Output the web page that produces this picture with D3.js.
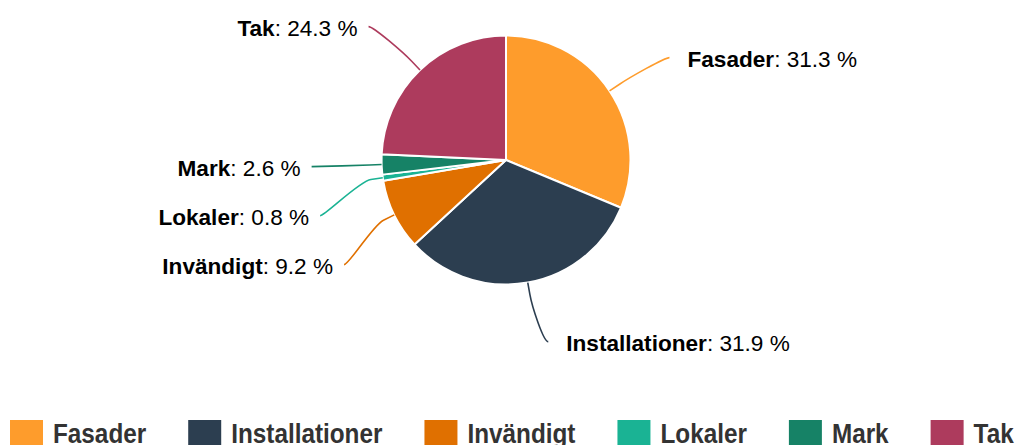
<!DOCTYPE html>
<meta charset="utf-8">
<script src="https://d3js.org/d3.v7.min.js"></script>
<style>
  body { margin: 0; background: #fff; }
  text { font-family: "Liberation Sans", Arial, sans-serif; }
</style>
<body>
<div id="canvas"></div>
<script>

    // data ------------------------------------------------------------
    var categories = ["Fasader", "Installationer", "Invändigt", "Lokaler", "Mark", "Tak"];
    var values = [31.3, 31.9, 9.2, 0.8, 2.6, 24.3];
    var colors = ["#fe9c2c", "#2c3e50", "#e07000", "#1ab394", "#168266", "#ad3b5d"];

    var width = 1021;
    var height = 445;

    var svg = d3.select('#canvas')
        .append("svg")
        .attr("width", width)
        .attr("height", height);

    var cx = 506, cy = 160, r = 124.5;
    var labelR = r + 60;      // distancia dos rotulos
    var breakOff = 12;        // onde a linha do conector quebra

    var data = categories.map(function(c, i) {
        return { name: c, value: values[i], color: colors[i] };
    });

    var pie = d3.pie()
        .sort(null)
        .value(function(d) { return d.value; });
    var arcs = pie(data);

    var arc = d3.arc().innerRadius(0).outerRadius(r);

    var g = svg.append("g")
        .attr("transform", "translate(" + cx + "," + cy + ")");

    // fatias -----------------------------------------------------------
    g.selectAll(".slice")
        .data(arcs)
        .enter()
        .append("path")
        .attr("d", arc)
        .attr("fill", function(d) { return d.data.color; })
        .attr("stroke", "#fff")
        .attr("stroke-width", 2)
        .attr("stroke-linejoin", "round");

    // posicao dos rotulos ----------------------------------------------
    arcs.forEach(function(a) {
        a.mid = (a.startAngle + a.endAngle) / 2;
        a.left = Math.sin(a.mid) < 0;
        a.ly = -Math.cos(a.mid) * labelR;
    });

    // empurra rotulos sobrepostos (por lado)
    var minGap = 49;
    [true, false].forEach(function(side) {
        var list = arcs.filter(function(a) { return a.left === side; })
            .sort(function(a, b) { return a.ly - b.ly; });
        for (var i = 1; i < list.length; i++) {
            if (list[i].ly - list[i - 1].ly < minGap) {
                list[i].ly = list[i - 1].ly + minGap;
            }
        }
    });

    arcs.forEach(function(a) {
        var dy = Math.max(-labelR, Math.min(labelR, a.ly));
        var dx = Math.sqrt(labelR * labelR - dy * dy) + 10;
        a.lx = a.left ? -dx : dx;
    });

    // conectores -------------------------------------------------------
    g.selectAll(".connector")
        .data(arcs)
        .enter()
        .append("path")
        .attr("fill", "none")
        .attr("stroke", function(d) { return d.data.color; })
        .attr("stroke-width", 1.6)
        .attr("d", function(d) {
            var sx = Math.sin(d.mid), sy = -Math.cos(d.mid);
            var tx = sx * r, ty = sy * r;
            var bx = sx * (r + breakOff), by = sy * (r + breakOff);
            var p = d3.path();
            p.moveTo(d.lx, d.ly);
            p.bezierCurveTo(d.lx + (d.left ? 5 : -5), d.ly, 2 * bx - tx, 2 * by - ty, bx, by);
            p.lineTo(tx, ty);
            return p.toString();
        });

    // texto dos rotulos ------------------------------------------------
    var labels = g.selectAll(".label")
        .data(arcs)
        .enter()
        .append("text")
        .attr("x", function(d) { return d.left ? d.lx - 11 : d.lx + 18; })
        .attr("y", function(d) { return d.ly + 9.5; })
        .attr("font-size", "22.6px")
        .attr("fill", "#000")
        .style("text-anchor", function(d) { return d.left ? "end" : "start"; });

    labels.append("tspan")
        .attr("font-weight", "bold")
        .text(function(d) { return d.data.name; });
    labels.append("tspan")
        .text(function(d) { return ": " + d.data.value.toFixed(1) + " %"; });

    // legenda ----------------------------------------------------------
    var legend = svg.append("g");
    var lx = 10;
    data.forEach(function(d) {
        legend.append("rect")
            .attr("x", lx)
            .attr("y", 420)
            .attr("width", 33)
            .attr("height", 33)
            .attr("fill", d.color);
        var t = legend.append("text")
            .attr("x", lx + 43)
            .attr("y", 443)
            .attr("font-size", "27px")
            .attr("font-weight", "bold")
            .attr("fill", "#333")
            .text(d.name);
        var w = t.node().getComputedTextLength() * 0.9;
        t.attr("textLength", w).attr("lengthAdjust", "spacingAndGlyphs");
        lx = lx + 43 + w + 42;
    });

</script>
</body>
